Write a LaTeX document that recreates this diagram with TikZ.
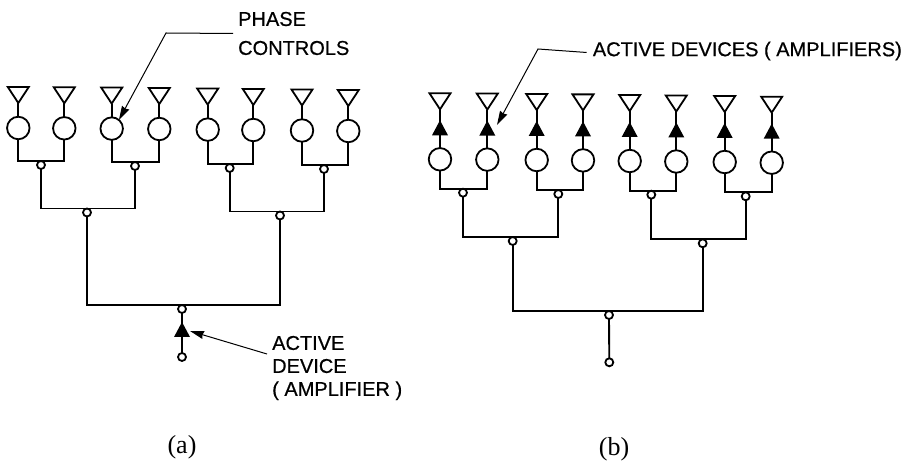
\documentclass[tikz,border=0pt]{standalone}
\usepackage{fontspec}
\setmainfont{Liberation Sans}[FakeBold=0.6]
\newfontfamily\lblfont{Liberation Sans}[FakeBold=0.6]
\newfontfamily\capfont{Liberation Serif}
\usetikzlibrary{shapes.geometric,arrows.meta}
\tikzstyle{wire} = [line width=1.9pt]
\tikzstyle{leader} = [line width=1pt,-{Stealth[length=14pt,width=8pt,inset=1pt]}]
\tikzstyle{antenna} = [draw,line width=1.8pt,isosceles triangle,isosceles triangle stretches,shape border rotate=-90,minimum width=21pt,minimum height=16pt,inner sep=0pt,outer sep=0pt,anchor=apex]
\tikzstyle{amp} = [fill=black,isosceles triangle,isosceles triangle stretches,shape border rotate=90,minimum width=16pt,minimum height=15pt,inner sep=0pt,outer sep=0pt,anchor=apex]
\tikzstyle{phase} = [draw,line width=1.8pt,fill=white,circle,minimum size=22.5pt,inner sep=0pt,outer sep=0pt]
\tikzstyle{port} = [draw,line width=1.8pt,fill=white,circle,minimum size=8pt,inner sep=0pt,outer sep=0pt]
\tikzstyle{callout} = [inner sep=0pt,anchor=west,align=left]

\begin{document}
\begin{tikzpicture}[x=1pt,y=-1pt]
  \useasboundingbox (0,0) rectangle (911,462);
  % panel (a)
  \foreach \n/\x/\y in {1/18.3/128,2/64.3/128.3,3/111.7/128.6,4/159.3/129,5/207.7/129.6,6/253.3/130,7/302/130.5,8/348.3/131} {
    \node[phase] (ps\n) at (\x,\y) {};
    \node[antenna] (ant\n) at (\x,\y-25) {};
    \draw[wire] (ant\n.apex) -- (ps\n);
  }
  \node[port] (pa1) at (41,165) {};
  \node[port] (pa2) at (135,166) {};
  \node[port] (pa3) at (229.7,168) {};
  \node[port] (pa4) at (324,169) {};
  \node[port] (qa1) at (87,212.5) {};
  \node[port] (qa2) at (280,215.5) {};
  \node[port] (ra) at (182,309) {};
  \node[port] (sa) at (182,357) {};
  \node[amp] (ampa) at (182,322) {};
  \draw[wire] (ps1.south) |- (pa1.north) -| (ps2.south);
  \draw[wire] (ps3.south) |- (pa2.north) -| (ps4.south);
  \draw[wire] (ps5.south) |- (pa3.north) -| (ps6.south);
  \draw[wire] (ps7.south) |- (pa4.north) -| (ps8.south);
  \draw[wire] (pa1.south) |- (qa1.north) -| (pa2.south);
  \draw[wire] (pa3.south) |- (qa2.north) -| (pa4.south);
  \draw[wire] (qa1.south) |- (ra.north) -| (qa2.south);
  \draw[wire] (ra.south) -- (sa.north);
  % panel (b)
  \foreach \n/\x/\y in {1/440/159.3,2/487.3/159.6,3/536.7/160,4/583/160.4,5/629.7/161,6/676.3/161.5,7/724.7/162,8/771.7/162.7} {
    \node[phase] (bps\n) at (\x,\y) {};
    \node[antenna] (bant\n) at (\x,\y-50) {};
    \node[amp] (bamp\n) at (\x,\y-39) {};
    \draw[wire] (bant\n.apex) -- (bps\n);
  }
  \node[port] (pb1) at (463,192.7) {};
  \node[port] (pb2) at (558.3,194) {};
  \node[port] (pb3) at (651.3,194.7) {};
  \node[port] (pb4) at (745.7,196.3) {};
  \node[port] (qb1) at (512.7,241) {};
  \node[port] (qb2) at (702.7,243.3) {};
  \node[port] (rb) at (609,315) {};
  \node[port] (sb) at (609.3,362.3) {};
  \draw[wire] (bps1.south) |- (pb1.north) -| (bps2.south);
  \draw[wire] (bps3.south) |- (pb2.north) -| (bps4.south);
  \draw[wire] (bps5.south) |- (pb3.north) -| (bps6.south);
  \draw[wire] (bps7.south) |- (pb4.north) -| (bps8.south);
  \draw[wire] (pb1.south) |- (qb1.north) -| (pb2.south);
  \draw[wire] (pb3.south) |- (qb2.north) -| (pb4.south);
  \draw[wire] (qb1.south) |- (rb.north) -| (qb2.south);
  \draw[wire] (rb.south) -- (sb.north);
  % labels
  \node[callout,font=\lblfont\fontsize{20}{29}\selectfont] (lblphase) at (238,33.5) {PHASE\\CONTROLS};
  \node[callout,font=\lblfont\fontsize{20}{23}\selectfont] (lblactive) at (272,368) {ACTIVE\\DEVICE\\( AMPLIFIER )};
  \node[callout,font=\lblfont\fontsize{20}{23}\selectfont] (lblactives) at (592.7,51) {ACTIVE DEVICES ( AMPLIFIERS)};
  \node[font=\capfont\fontsize{26}{30}\selectfont,inner sep=0pt] (capa) at (182,447) {(a)};
  \node[font=\capfont\fontsize{26}{30}\selectfont,inner sep=0pt] (capb) at (614,449) {(b)};
  % call-out lines
  \coordinate (benda) at (166,33);
  \coordinate (bendb) at (538,49);
  \coordinate (tailc) at (267,354);
  \coordinate (tipc) at (190,331);
  \coordinate (tipb) at (497,125);
  \draw[leader] (lblphase.west) ++(-5pt,0) -- (benda) -- (ps3.50);
  \draw[leader] (lblactives.west) ++(-6pt,-1.5pt) -- (bendb) -- (tipb);
  \draw[leader] (tailc) -- (tipc);
\end{tikzpicture}
\end{document}
